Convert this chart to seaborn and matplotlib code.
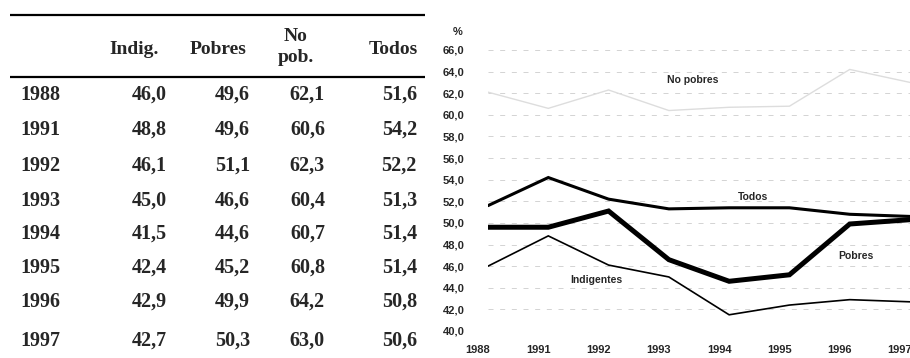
import matplotlib
matplotlib.use("Agg")
import matplotlib.pyplot as plt
import matplotlib.transforms as mtransforms
import seaborn as sns
import pandas as pd

# ---- data ----
years = ["1988", "1991", "1992", "1993", "1994", "1995", "1996", "1997"]
indigentes = [46.0, 48.8, 46.1, 45.0, 41.5, 42.4, 42.9, 42.7]
pobres = [49.6, 49.6, 51.1, 46.6, 44.6, 45.2, 49.9, 50.3]
no_pobres = [62.1, 60.6, 62.3, 60.4, 60.7, 60.8, 64.2, 63.0]
todos = [51.6, 54.2, 52.2, 51.3, 51.4, 51.4, 50.8, 50.6]

col_headers = ["Indig.", "Pobres", "No\npob.", "Todos"]
y_ticks = [40, 42, 44, 46, 48, 50, 52, 54, 56, 58, 60, 62, 64, 66]

sns.set_theme(style="white")
plt.rcParams["font.family"] = ["Liberation Serif", "DejaVu Sans"]

SERIF = ["Liberation Serif", "DejaVu Serif"]
SANS = ["Liberation Sans", "DejaVu Sans"]


def fmt(v):
    return f"{v:.1f}".replace(".", ",")


W, H = 910, 358
fig = plt.figure(figsize=(W / 100, H / 100), dpi=100)

# ---- table on the left (pixel-based layout axes) ----
tab = fig.add_axes([0, 0, 1, 1])
tab.set_xlim(0, W)
tab.set_ylim(H, 0)
tab.axis("off")

tab.plot([10, 425], [15, 15], color="black", lw=1.6, solid_capstyle="butt")
tab.plot([10, 425], [77, 77], color="black", lw=1.6, solid_capstyle="butt")

header_x = [134, 218, 296, 393]
header_y = [50, 50, 47, 50]
for hx, hy, label in zip(header_x, header_y, col_headers):
    tab.text(hx, hy, label, ha="center", va="center", fontsize=14,
             fontweight="bold", linespacing=1.3, family=SERIF)

value_x = [167, 250, 325, 417]
row_y = [95, 130, 166, 201, 234, 268, 302, 341]
series_cols = [indigentes, pobres, no_pobres, todos]
for i, yr in enumerate(years):
    ry = row_y[i]
    tab.text(20, ry, yr, ha="left", va="center", fontsize=14.5,
             fontweight="bold", family=SERIF)
    for cx, col in zip(value_x, series_cols):
        tab.text(cx, ry, fmt(col[i]), ha="right", va="center",
                 fontsize=14.5, fontweight="bold", family=SERIF)

# ---- line chart on the right ----
left, right_px, top_px, bot_px = 488, 910, 50, 331
ax = fig.add_axes([left / W, 1 - bot_px / H, (right_px - left) / W,
                   (bot_px - top_px) / H])
ax.set_facecolor("none")

df = pd.DataFrame({
    "year": years * 4,
    "value": no_pobres + todos + pobres + indigentes,
    "serie": (["No pobres"] * 8 + ["Todos"] * 8 + ["Pobres"] * 8
              + ["Indigentes"] * 8),
})

styles = {
    "No pobres": dict(color="#dddddd", linewidth=1.0),
    "Todos": dict(color="black", linewidth=2.2),
    "Pobres": dict(color="black", linewidth=3.6),
    "Indigentes": dict(color="black", linewidth=1.2),
}
for name, st in styles.items():
    sub = df[df["serie"] == name]
    sns.lineplot(data=sub, x="year", y="value", ax=ax, legend=False,
                 solid_joinstyle="miter", **st)

ax.set_xlim(0, len(years) - 1)
ax.set_ylim(40, 66)
ax.set_yticks(y_ticks)
ax.set_yticklabels([fmt(v) for v in y_ticks])
ax.set_xlabel("")
ax.set_ylabel("")
for s in ax.spines.values():
    s.set_visible(False)
ax.grid(axis="y", color="#cccccc", linewidth=0.6, linestyle=(0, (6, 8)))
ax.grid(axis="x", visible=False)
ax.tick_params(axis="both", length=0)
ax.tick_params(axis="y", pad=17)
ax.tick_params(axis="x", pad=10)
for t in ax.get_yticklabels() + ax.get_xticklabels():
    t.set_fontfamily(SANS)
    t.set_fontweight("bold")
    t.set_fontsize(8)
shift = mtransforms.ScaledTranslation(-10 / 100, 0, fig.dpi_scale_trans)
for t in ax.get_xticklabels():
    t.set_transform(t.get_transform() + shift)

lab_font = dict(family=SANS, fontweight="bold", fontsize=7.5,
                ha="center", va="center")
ax.text(3.4, 63.2, "No pobres", **lab_font)
ax.text(4.4, 52.4, "Todos", **lab_font)
ax.text(6.1, 46.9, "Pobres", **lab_font)
ax.text(1.8, 44.7, "Indigentes", **lab_font)

fig.text(458 / W, 1 - 32 / H, "%", ha="center", va="center",
         fontsize=8, fontweight="bold", family=SANS)

fig.savefig("out.png", dpi=100)
